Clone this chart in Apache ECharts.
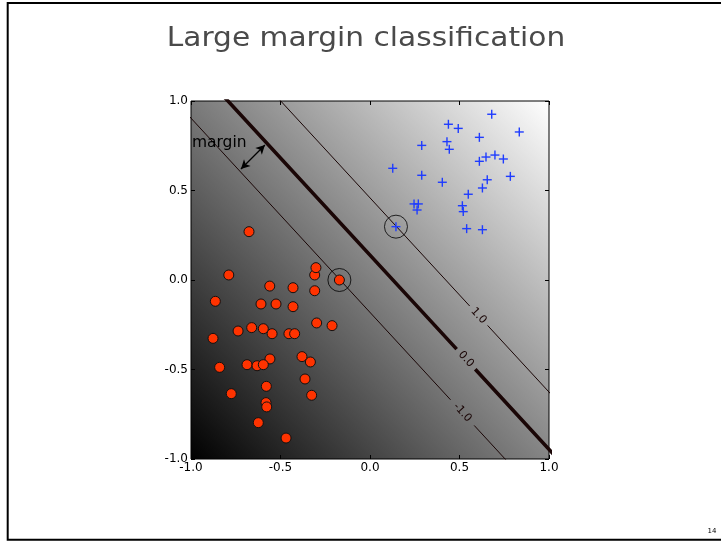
<!DOCTYPE html>
<html><head><meta charset="utf-8">
<script src="https://cdn.jsdelivr.net/npm/echarts@6/dist/echarts.min.js"></script>
<style>html,body{margin:0;padding:0;background:#fff}#c{width:721px;height:541px}</style>
</head><body><div id="c"></div>
<script>
// ---- data ----
const titleText = 'Large margin classification';
const pageNumber = '14';
const tickValues = [-1.0, -0.5, 0.0, 0.5, 1.0];
const tickLabels = ['-1.0', '-0.5', '0.0', '0.5', '1.0'];

// class -1 (red circles)
const negX = [-0.789, -0.309, -0.302, -0.676, -0.171, -0.560, -0.430, -0.309, -0.864, -0.609, -0.525, -0.430,
              -0.298, -0.212, -0.737, -0.661, -0.596, -0.547, -0.453, -0.421, -0.877, -0.380, -0.333, -0.559,
              -0.687, -0.631, -0.596, -0.840, -0.363, -0.579, -0.775, -0.326, -0.581, -0.577, -0.624, -0.469];
const negY = [0.028, 0.028, 0.069, 0.270, 0.000, -0.034, -0.043, -0.060, -0.119, -0.134, -0.134, -0.149,
              -0.240, -0.255, -0.285, -0.266, -0.272, -0.300, -0.300, -0.300, -0.326, -0.428, -0.458, -0.441,
              -0.473, -0.479, -0.473, -0.488, -0.553, -0.594, -0.635, -0.644, -0.685, -0.709, -0.797, -0.883];
// class +1 (blue crosses)
const posX = [0.680, 0.438, 0.493, 0.834, 0.611, 0.289, 0.430, 0.443, 0.648, 0.698, 0.745, 0.611, 0.127, 0.289,
              0.784, 0.655, 0.404, 0.628, 0.549, 0.246, 0.270, 0.263, 0.516, 0.521, 0.145, 0.540, 0.628];
const posY = [0.926, 0.870, 0.847, 0.827, 0.797, 0.752, 0.773, 0.730, 0.687, 0.698, 0.676, 0.663, 0.624, 0.585,
              0.579, 0.560, 0.546, 0.514, 0.479, 0.425, 0.425, 0.391, 0.415, 0.382, 0.298, 0.287, 0.281];
// support vectors (circled)
const svX = [-0.171, 0.145];
const svY = [0.000, 0.298];

// decision function: f(x,y) = (wX*x + wY*y - bias) / marginWidth
const wX = 1.085, wY = 1.0, bias = 0.139, marginWidth = 0.32;
const levels = [-1.0, 0.0, 1.0];
const levelLabels = ['-1.0', '0.0', '1.0'];
const levelLabelX = [0.516, 0.536, 0.607];
const levelGapHalf = [0.066, 0.052, 0.050];
const levelWidths = [1, 3.6, 1];

// "margin" annotation (data coords)
const marginText = 'margin';
const marginTextPos = [-0.995, 0.768];
const arrowFrom = [-0.721, 0.620];
const arrowTo = [-0.587, 0.754];

// ---- build ----
const zip = (a, b) => a.map((v, i) => [v, b[i]]);
const yOnLevel = (L, x) => (bias + L * marginWidth - wX * x) / wY;
function levelData(i) {
  const L = levels[i];
  const xs = [-1.4, levelLabelX[i] - levelGapHalf[i], levelLabelX[i] + levelGapHalf[i], 1.4];
  return [[xs[0], yOnLevel(L, xs[0])], [xs[1], yOnLevel(L, xs[1])], ['-', '-'],
          [xs[2], yOnLevel(L, xs[2])], [xs[3], yOnLevel(L, xs[3])]];
}
const fmt = v => { const k = tickValues.findIndex(t => Math.abs(t - v) < 1e-9); return k >= 0 ? tickLabels[k] : ''; };
const angle = -Math.atan(wX / wY);

// gradient along the normal of the decision function (square plot box)
const gdx = wX, gdy = -wY;
const gs = (Math.abs(gdx) + Math.abs(gdy)) / (gdx * gdx + gdy * gdy);
const bgGrad = new echarts.graphic.LinearGradient(0, 1, gdx * gs, 1 + gdy * gs,
  [{offset: 0, color: '#000000'}, {offset: 1, color: '#ffffff'}]);

const FONT = 'DejaVu Sans';
const axisBase = (pos, showLabel) => ({
  type: 'value', min: -1, max: 1, interval: 0.5, position: pos,
  axisLine: {show: false, onZero: false}, splitLine: {show: false},
  axisTick: {show: true, inside: true, length: 4, lineStyle: {color: '#000', width: 1}},
  axisLabel: {show: showLabel, formatter: fmt, color: '#000', fontSize: 12, fontFamily: FONT,
              margin: 3, showMinLabel: true, showMaxLabel: true}
});

const chart = echarts.init(document.getElementById('c'), null, {renderer: 'canvas'});
const series = [];
levels.forEach((L, i) => series.push({
  type: 'line', data: levelData(i), showSymbol: false, symbol: 'none', clip: true, z: 2,
  connectNulls: false, silent: true, animation: false,
  lineStyle: {color: '#1a0606', width: levelWidths[i]}
}));
series.push({
  type: 'custom', z: 3, silent: true, animation: false,
  data: levels.map((L, i) => [levelLabelX[i], yOnLevel(L, levelLabelX[i]), i]),
  renderItem: (params, api) => {
    const p = api.coord([api.value(0), api.value(1)]);
    return {type: 'text', x: p[0], y: p[1], rotation: angle,
      style: {text: levelLabels[api.value(2)], fill: '#1a0606', font: '11px "DejaVu Sans"',
              textAlign: 'center', textVerticalAlign: 'middle'}};
  }
});
series.push({
  type: 'scatter', data: zip(negX, negY), symbol: 'circle', symbolSize: 10, z: 5, animation: false,
  itemStyle: {color: '#ff3300', borderColor: '#111', borderWidth: 1, opacity: 1},
  markLine: {silent: true, animation: false, symbol: ['arrow', 'arrow'], symbolSize: [7, 9],
    label: {show: false}, lineStyle: {color: '#000', width: 1.2, type: 'solid'},
    data: [[{coord: arrowFrom}, {coord: arrowTo}]]}
});
series.push({
  type: 'custom', z: 5, silent: true, animation: false, data: zip(posX, posY),
  renderItem: (params, api) => {
    const p = api.coord([api.value(0), api.value(1)]);
    const h = 4.5, st = {stroke: '#1f3cff', lineWidth: 1.4};
    return {type: 'group', children: [
      {type: 'line', shape: {x1: p[0] - h, y1: p[1], x2: p[0] + h, y2: p[1]}, style: st},
      {type: 'line', shape: {x1: p[0], y1: p[1] - h, x2: p[0], y2: p[1] + h}, style: st}]};
  }
});
series.push({
  type: 'scatter', data: zip(svX, svY), symbol: 'circle', symbolSize: 23, z: 6, silent: true, animation: false,
  itemStyle: {color: 'rgba(0,0,0,0)', borderColor: '#000', borderWidth: 1}
});
series.push({
  type: 'custom', z: 6, silent: true, animation: false, data: [marginTextPos],
  renderItem: (params, api) => {
    const p = api.coord([api.value(0), api.value(1)]);
    return {type: 'text', x: p[0], y: p[1],
      style: {text: marginText, fill: '#000', font: '15.5px "DejaVu Sans"', textAlign: 'left', textVerticalAlign: 'middle'}};
  }
});

chart.setOption({
  animation: false,
  backgroundColor: '#ffffff',
  grid: {left: 191, top: 101, width: 358, height: 358, show: true, backgroundColor: bgGrad,
         borderColor: '#000', borderWidth: 1, containLabel: false},
  xAxis: [axisBase('bottom', true), axisBase('top', false)],
  yAxis: [axisBase('left', true), axisBase('right', false)],
  graphic: [
    {type: 'rect', shape: {x: 7.7, y: 3, width: 730, height: 536.7}, style: {fill: 'none', stroke: '#000', lineWidth: 2}, z: 0, silent: true},
    {type: 'text', x: 366, y: 39, scaleX: 1.14, style: {text: titleText, fill: '#4a4a4a', font: '26px "DejaVu Sans"',
      textAlign: 'center', textVerticalAlign: 'middle'}, silent: true},
    {type: 'text', x: 712, y: 531.5, style: {text: pageNumber, fill: '#000', font: '7px "DejaVu Sans"',
      textAlign: 'center', textVerticalAlign: 'middle'}, silent: true}
  ],
  series: series
});
</script>
</body></html>
